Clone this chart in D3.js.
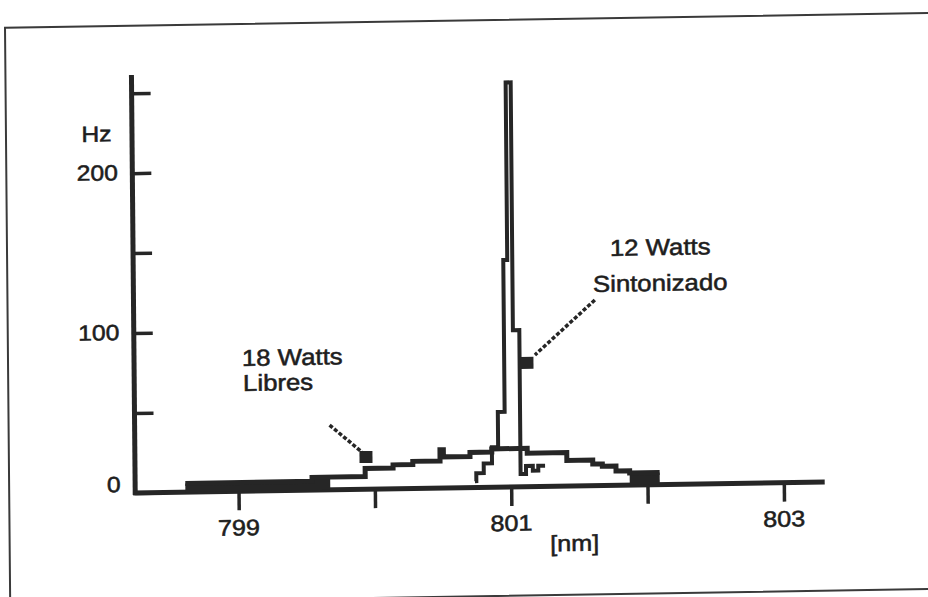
<!DOCTYPE html>
<html>
<head>
<meta charset="utf-8">
<script src="https://cdn.jsdelivr.net/npm/d3@7"></script>
<style>
  html, body { margin: 0; padding: 0; background: #fff; }
  svg { display: block; }
</style>
</head>
<body>
<svg id="chart" width="928" height="597"></svg>
<script>
// Axis ticks
const xTicks = [799, 800, 801, 802, 803];
const xTickLabels = ["799", "", "801", "", "803"];
const yTicks = [0, 50, 100, 150, 200, 250];
const yTickLabels = ["0", "", "100", "", "200", ""];

// 18 W free-running spectrum: bin start (nm) and count rate (Hz); last entry closes the trace
const libresNm = [798.61, 799.54, 799.93, 800.135, 800.28, 800.48, 800.505, 800.70, 800.86, 801.12, 801.41, 801.60, 801.67, 801.77, 801.87, 802.09];
const libresHz = [5.5, 8, 13, 15, 17, 24, 19.5, 22, 24, 21, 16, 13.5, 12, 9, 7.5, 7.5];
// wavelength ranges of the 18 W trace shaded down to the axis
const libresShaded = [[798.61, 799.673], [801.87, 802.09]];

// 12 W tuned spectrum
const sintNm = [800.735, 800.745, 800.80, 800.861, 800.907, 800.957, 800.986, 801.023, 801.07, 801.11, 801.16, 801.20, 801.25];
const sintHz = [4, 9, 15, 25, 47, 142, 253, 98, 8, 13, 10, 13, 13];

// Annotation text (nm, Hz anchors) and leader arrows
const noteLines = [["12 Watts", "Sintonizado"], ["18 Watts", "Libres"]];
const noteAnchors = [[[801.74, 143.5], [801.613, 121.1]], [[799.034, 78.4], [799.04, 62.7]]];
const arrowFrom = [[801.626, 116.1], [799.672, 40.5]];
const arrowTo = [[801.183, 82.3], [799.908, 23.3]];
const arrowTip = [[801.124, 77.4], [799.937, 20.2]];

const ink = "#262626";
const font = "'Liberation Sans', Arial, sans-serif";

const svg = d3.select("#chart");
// the sheet sits slightly skewed on the page
const root = svg.append("g").attr("transform", "matrix(1,-0.016,0.009,1,-2.68,7.42)");

// page frame
root.append("rect")
  .attr("x", 7.5).attr("y", 20.5).attr("width", 940).attr("height", 576)
  .attr("fill", "none").attr("stroke", "#3a3a3a").attr("stroke-width", 2);

const x = d3.scaleLinear().domain([798.242, 803.3]).range([133.5, 823]);
const y = d3.scaleLinear().domain([0, 261.4]).range([487.7, 69.7]);

// wide-ish, slightly heavy text helper
function label(g, px, py, txt, anchor, size) {
  g.append("text")
    .attr("transform", `translate(${px},${py}) scale(1.12,1)`)
    .attr("text-anchor", anchor)
    .attr("font-family", font)
    .attr("font-size", size)
    .attr("fill", "#1e1e1e")
    .attr("stroke", "#1e1e1e")
    .attr("stroke-width", 0.55)
    .text(txt);
}

// ---- axes ----
const yAxis = root.append("g")
  .attr("transform", `translate(${x.range()[0]},0)`)
  .call(d3.axisRight(y).tickValues(yTicks).tickSize(19).tickFormat(""));
yAxis.select(".domain").remove();
yAxis.selectAll(".tick line").attr("stroke", ink).attr("stroke-width", 3.5);

const xAxis = root.append("g")
  .attr("transform", `translate(0,${y(0)})`)
  .call(d3.axisBottom(x).tickValues(xTicks).tickSize(19).tickFormat(""));
xAxis.select(".domain").remove();
xAxis.selectAll(".tick line").attr("stroke", ink).attr("stroke-width", 3.5);

root.append("line")
  .attr("x1", x.range()[0]).attr("x2", x.range()[0])
  .attr("y1", y(0) + 2).attr("y2", y(261.4))
  .attr("stroke", ink).attr("stroke-width", 5);
root.append("line")
  .attr("x1", x.range()[0] - 2).attr("x2", x.range()[1])
  .attr("y1", y(0)).attr("y2", y(0))
  .attr("stroke", ink).attr("stroke-width", 5);

// tick labels
yTicks.forEach((v, i) => {
  if (!yTickLabels[i]) return;
  label(root, 119, v === 0 ? y(v) - 1.3 : y(v) + 6.8, yTickLabels[i], "end", 22);
});
label(root, 113, 135.8, "Hz", "end", 22);
xTicks.forEach((v, i) => {
  if (!xTickLabels[i]) return;
  label(root, x(v), y(0) + 44, xTickLabels[i], "middle", 22.5);
});
label(root, 548, 552.8, "[nm]", "start", 22.5);

// ---- spectra ----
function steps(nm, hz) {
  return nm.map((d, i) => [d, hz[i]]);
}
function clipSteps(nm, hz, a, b) {
  const pts = [];
  for (let i = 0; i < nm.length - 1; i++) {
    const s = Math.max(a, nm[i]), e = Math.min(b, nm[i + 1]);
    if (e > s) pts.push([s, hz[i]]);
  }
  if (pts.length) pts.push([b, pts[pts.length - 1][1]]);
  return pts;
}

const stepLine = d3.line().curve(d3.curveStepAfter).x(d => x(d[0])).y(d => y(d[1]));
const stepArea = d3.area().curve(d3.curveStepAfter).x(d => x(d[0])).y0(y(0)).y1(d => y(d[1]));

libresShaded.forEach(([a, b]) => {
  root.append("path")
    .attr("d", stepArea(clipSteps(libresNm, libresHz, a, b)))
    .attr("fill", ink);
});

root.append("path")
  .attr("d", stepLine(steps(libresNm, libresHz)))
  .attr("fill", "none").attr("stroke", ink).attr("stroke-width", 5)
  .attr("stroke-linejoin", "miter");

root.append("path")
  .attr("d", stepLine(steps(sintNm, sintHz)))
  .attr("fill", "none").attr("stroke", ink).attr("stroke-width", 4)
  .attr("stroke-linejoin", "miter");

// ---- annotations ----
noteLines.forEach((lines, k) => {
  lines.forEach((t, j) => {
    const [n, h] = noteAnchors[k][j];
    label(root, x(n), y(h), t, "start", 23);
  });
  root.append("line")
    .attr("x1", x(arrowFrom[k][0])).attr("y1", y(arrowFrom[k][1]))
    .attr("x2", x(arrowTo[k][0])).attr("y2", y(arrowTo[k][1]))
    .attr("stroke", ink).attr("stroke-width", 3.5)
    .attr("stroke-dasharray", "4 2");
  const [tn, th] = arrowTip[k];
  root.append("rect")
    .attr("x", x(tn) - 6.5).attr("y", y(th) - 6)
    .attr("width", 13).attr("height", 12)
    .attr("fill", ink);
});
</script>
</body>
</html>
